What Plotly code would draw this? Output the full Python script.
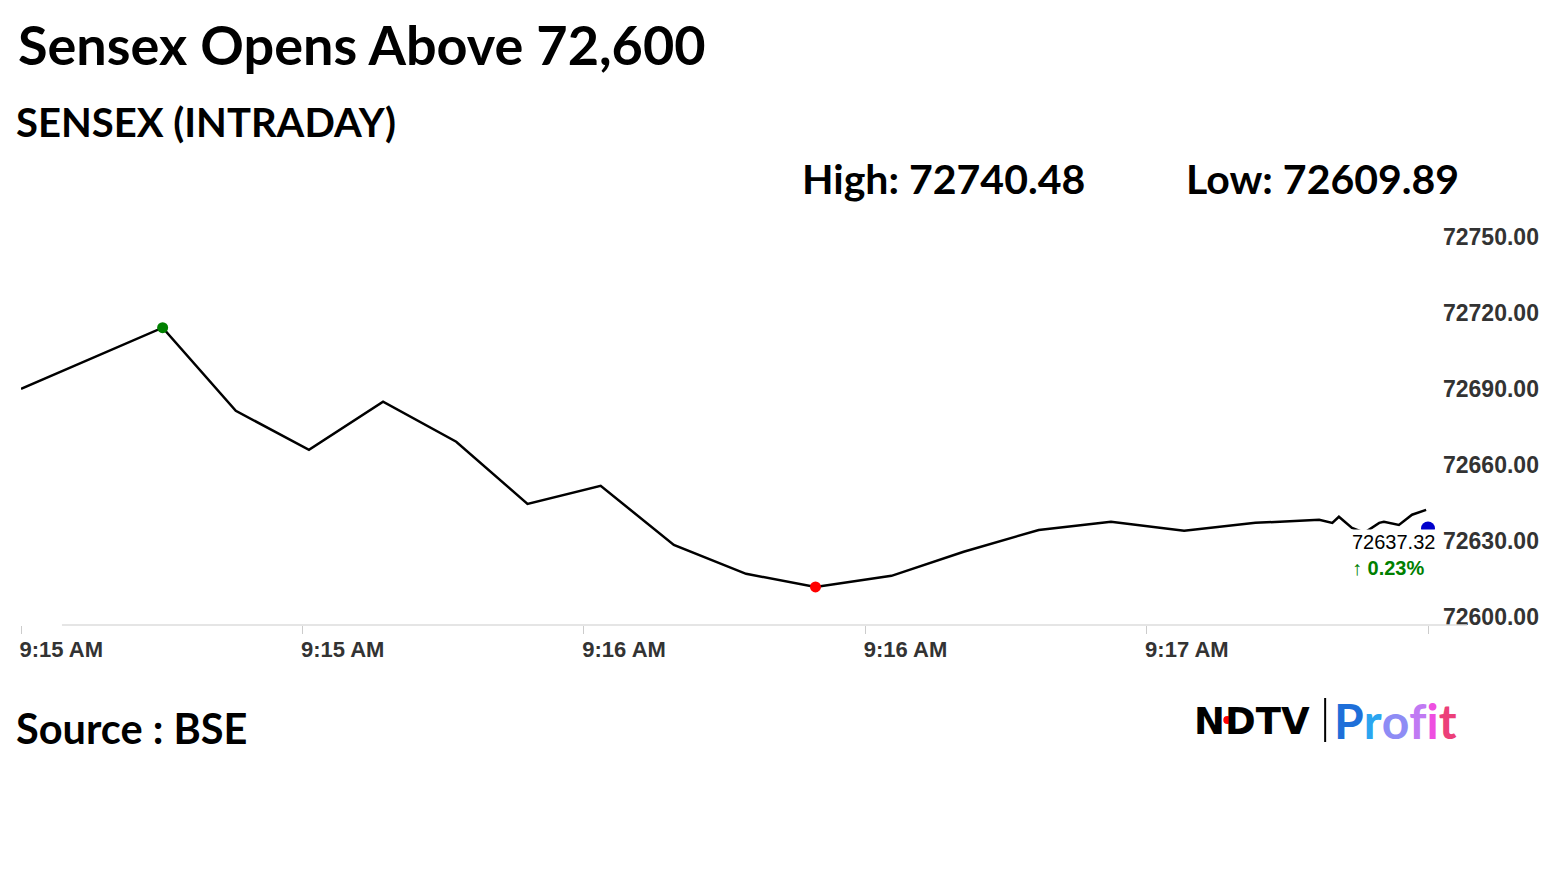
"""Sensex intraday line chart, NDTV Profit style."""

import plotly.graph_objects as go

# seconds after 9:15:00 and index level
seconds = [0, 15.1, 22.9, 30.7, 38.6, 46.4, 54.0, 61.8, 69.6, 77.3, 84.7, 92.8,
           100.5, 108.5, 116.2, 124.0, 131.6, 138.4, 139.8, 140.5, 141.9, 143.2,
           144.8, 145.3, 146.9, 148.3, 149.8]
sensex = [72690.0, 72714.1, 72681.3, 72665.9, 72684.9, 72669.1, 72644.6, 72651.7,
          72628.4, 72617.0, 72611.8, 72616.2, 72625.7, 72634.3, 72637.5, 72634.0,
          72637.1, 72638.3, 72637.1, 72639.5, 72635.1, 72633.2, 72637.1, 72637.5,
          72636.3, 72640.3, 72642.2]

high_point = (15.1, 72714.1)
low_point = (84.7, 72611.8)
last_point = (150.0, 72634.9)

tick_seconds = [0, 30, 60, 90, 120, 150]
tick_labels = ["9:15 AM", "9:15 AM", "9:16 AM", "9:16 AM", "9:17 AM", ""]
y_ticks = [72600, 72630, 72660, 72690, 72720, 72750]

day_high = "72740.48"
day_low = "72609.89"
last_value = "72637.32"
change_pct = "0.23%"

OFF = 8  # page body margin
W, H = 1555 - OFF, 874 - OFF
L, R, T, B = 19, 1428, 224, 625  # plot box in screen pixels


def px(x):
    return (x - L) / (R - L)


def py(y):
    return (B - y) / (B - T)


fig = go.Figure()

fig.add_trace(go.Scatter(x=seconds, y=sensex, mode="lines",
                         line=dict(color="black", width=2.5), hoverinfo="skip"))

# high / low / last markers
for (x, y), c, s in [(high_point, "green", 11), (low_point, "red", 11),
                     (last_point, "#0000cc", 14)]:
    fig.add_trace(go.Scatter(x=[x], y=[y], mode="markers", cliponaxis=False,
                             marker=dict(color=c, size=s), hoverinfo="skip"))

ann = []


def text(x, y, s, size, color="black", family="Lato", anchor="left", **kw):
    ann.append(dict(x=px(x), y=py(y), xref="paper", yref="paper", text=s,
                    showarrow=False, xanchor=anchor, yanchor="middle",
                    font=dict(size=size, color=color, family=family), **kw))


text(14, 44, "<b>Sensex Opens Above 72,600</b>", 54)
text(12, 122, "<b>SENSEX (INTRADAY)</b>", 40)
text(799, 178, f"<b>High: {day_high}</b>", 41)
text(1184, 178, f"<b>Low: {day_low}</b>", 41)
text(12, 728, "<b>Source : BSE</b>", 41.5)

# last value label with white box hiding the line under it
ann.append(dict(x=px(1350), y=py(529), xref="paper", yref="paper",
                text=(f"{last_value}<br><span style='color:green'><b>\u2191 {change_pct}</b></span>"),
                showarrow=False, xanchor="left", yanchor="top", align="left",
                bgcolor="white", borderpad=1,
                font=dict(size=20, color="black", family="Liberation Sans")))

# logo
text(1192, 721, "<b>NDTV</b>", 37, family="DejaVu Sans")
profit = "\u200c".join(f"<span style='color:{c}'>{ch}</span>" for ch, c in
                       zip("Profit", ["#1e6fd9", "#2aa5f0", "#8e8cf5", "#c07af3", "#ee4fe0", "#ec3f79"]))
text(1332, 720, f"<b>{profit}</b>", 48)

shapes = [
    dict(type="line", xref="paper", yref="paper", x0=px(60), x1=px(1467), y0=0, y1=0,
         line=dict(color="#dddddd", width=1.5)),
    dict(type="line", xref="paper", yref="paper", x0=px(1325), x1=px(1325),
         y0=py(698), y1=py(742), line=dict(color="black", width=2)),
    dict(type="circle", xref="paper", yref="paper", x0=px(1223), x1=px(1231),
         y0=py(716), y1=py(724), fillcolor="red", line=dict(width=0)),
]

x_font = dict(size=22, color="#333333", family="Liberation Sans", weight="bold")
y_font = dict(size=23, color="#333333", family="Liberation Sans", weight="bold")

fig.update_layout(
    width=W, height=H,
    margin=dict(l=L - OFF, r=W - (R - OFF), t=T - OFF, b=H - (B - OFF)),
    paper_bgcolor="white", plot_bgcolor="white",
    showlegend=False,
    annotations=ann, shapes=shapes,
    xaxis=dict(range=[0, 150], tickvals=tick_seconds, ticktext=tick_labels,
               showgrid=False, zeroline=False, showline=False,
               ticks="outside", ticklen=8, tickcolor="#cccccc",
               ticklabelposition="outside right", ticklabelstandoff=5,
               ticklabelshift=-2, tickfont=x_font),
    yaxis=dict(range=[72596.8, 72755], tickvals=y_ticks,
               tickformat=".2f", side="right", showgrid=False, zeroline=False,
               showline=False, ticks="", ticklabelstandoff=14,
               tickfont=y_font),
)

fig.write_html("out.html")
